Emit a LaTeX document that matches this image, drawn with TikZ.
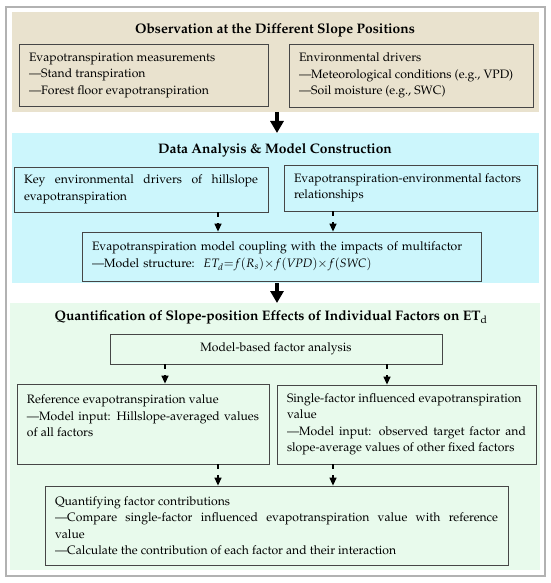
\documentclass[tikz,border=0pt]{standalone}
\usepackage[T1]{fontenc}
\usepackage{mathpazo}
\usepackage{tikz}
\usetikzlibrary{arrows.meta}

\definecolor{tanbg}{RGB}{233,226,206}
\definecolor{bluebg}{RGB}{204,246,252}
\definecolor{greenbg}{RGB}{232,250,236}
\definecolor{boxline}{RGB}{70,70,70}

\begin{document}
\begin{tikzpicture}[x=1pt, y=-1pt]
        \tikzstyle{every node}=[font=\fontsize{12.2}{16.5}\selectfont]
        \tikzstyle{panel}=[inner sep=0pt, outer sep=0pt]
        \tikzstyle{box}=[draw=boxline, line width=0.8pt, inner xsep=10pt, inner ysep=2pt, align=justify]
        \tikzstyle{title}=[font=\fontsize{13.8}{16}\selectfont\bfseries]
        \tikzstyle{bigarrow}=[line width=4.2pt, -{Triangle[length=12pt,width=13pt]}]
        \tikzstyle{dasharrow}=[line width=1.3pt, dash pattern=on 5pt off 6pt, -{Triangle[length=8pt,width=7pt]}]
        \useasboundingbox (0,0) rectangle (550,583);
        \draw[gray!60, line width=1.2pt] (6,7) rectangle (545,576); % frame
        % observation
        \node [panel, fill=tanbg, minimum width=527pt, minimum height=100pt] (obs) at (275.5,62) {};
        \node [title] (obst) at (275,30) {Observation at the Different Slope Positions};
        \node [box, text width=229pt, minimum height=62pt] (obsL) at (143.5,75) {Evapotranspiration measurements\\ ---Stand transpiration\\ ---Forest floor evapotranspiration};
        \node [box, text width=224pt, minimum height=63pt] (obsR) at (411,75.5) {Environmental drivers\\ ---Meteorological conditions (e.g., VPD)\\ ---Soil moisture (e.g., SWC)};
        % data analysis
        \node [panel, fill=bluebg, minimum width=527pt, minimum height=150pt] (dat) at (275.5,208) {};
        \node [title] (datt) at (275,150) {Data Analysis \& Model Construction};
        \node [box, text width=234pt, minimum height=45pt] (keyL) at (141,189.5) {Key environmental drivers of hillslope\linebreak evapotranspiration};
        \node [box, text width=233pt, minimum height=46pt] (relR) at (410.5,188) {Evapotranspiration-environmental factors\\ relationships};
        \node [box, text width=379pt, minimum height=49pt, align=left] (model) at (281.5,256.5) {Evapotranspiration model coupling with the impacts of multifactor\\ ---Model structure:\hspace{0.7em}$ET_{d}{=}f(R_{s}){\times}f(\mathit{VPD}){\times}f(\mathit{SWC})$};
        % quantification
        \node [panel, fill=greenbg, minimum width=530pt, minimum height=267pt] (qua) at (275,436.5) {};
        \node [title] (quat) at (271,317) {Quantification of Slope-position Effects of Individual Factors on ET$_{\mathrm{d}}$};
        \node [box, minimum width=332pt, minimum height=30pt, align=center] (mba) at (276,349) {Model-based factor analysis};
        \node [box, text width=232pt, minimum height=80pt] (refL) at (143,424) {Reference evapotranspiration value\\ ---Model input: Hillslope-averaged values\linebreak of all factors\\ \mbox{}};
        \node [box, text width=239pt, minimum height=79pt] (sinR) at (406.5,424.5) {Single-factor influenced evapotranspiration\\ value\\ ---Model input: observed target factor and\linebreak slope-average values of other fixed factors};
        \node [box, text width=443pt, minimum height=79pt] (quant) at (276.5,525.5) {Quantifying factor contributions\\ ---Compare single-factor influenced evapotranspiration value with reference\linebreak value\\ ---Calculate the contribution of each factor and their interaction};
        % arrows
        \draw [bigarrow] (obs.south -| 277,0) -- (dat.north -| 277,0);
        \draw [bigarrow] (dat.south -| 277,0) -- (qua.north -| 277,0);
        \draw [dasharrow] (keyL.south -| 218,0) -- (model.north -| 218,0);
        \draw [dasharrow] (relR.south -| 333,0) -- (model.north -| 333,0);
        \draw [dasharrow] (mba.south -| 165,0) -- (refL.north -| 165,0);
        \draw [dasharrow] (mba.south -| 387,0) -- (sinR.north -| 387,0);
        \draw [dasharrow] (refL.south -| 218,0) -- (quant.north -| 218,0);
        \draw [dasharrow] (sinR.south -| 333,0) -- (quant.north -| 333,0);
      \end{tikzpicture}
\end{document}
